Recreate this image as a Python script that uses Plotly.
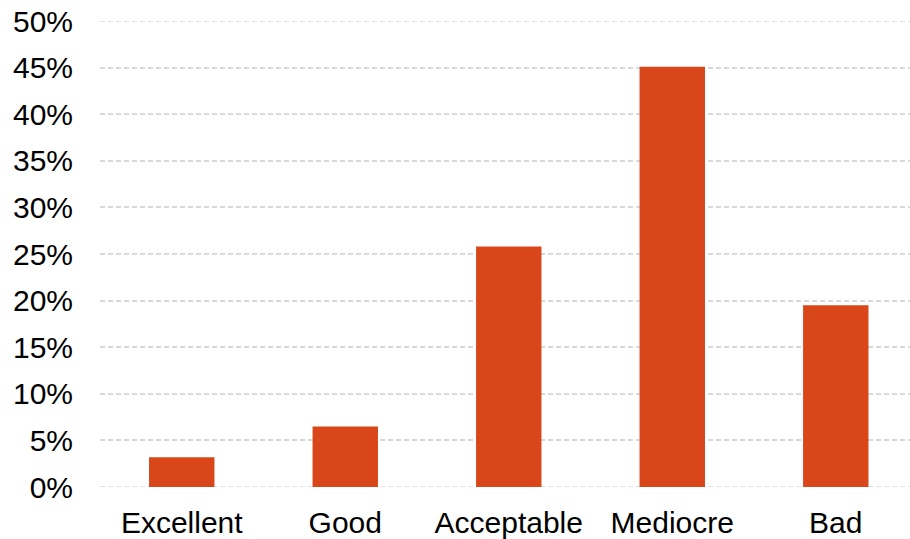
import plotly.graph_objects as go

categories = ["Excellent", "Good", "Acceptable", "Mediocre", "Bad"]
shares = [3.2, 6.5, 25.8, 45.1, 19.5]
tick_vals = [0, 5, 10, 15, 20, 25, 30, 35, 40, 45, 50]
tick_text = [f"{v}%" for v in tick_vals]

bar_color = "#D9461A"
grid_color = "#D9D9D9"
grid_dash = "5px,3px"
font_family = "Liberation Sans, Arial, sans-serif"

fig = go.Figure(
    go.Bar(
        x=categories,
        y=shares,
        marker=dict(color=bar_color, line=dict(width=0)),
        hoverinfo="x+y",
    )
)

fig.update_layout(
    width=910,
    height=539,
    margin=dict(l=100, r=0, t=21, b=52),
    paper_bgcolor="white",
    plot_bgcolor="white",
    bargap=0.6,
    showlegend=False,
    font=dict(family=font_family, size=30, color="#000000"),
)

fig.update_xaxes(
    range=[-0.5, 4.454],
    showgrid=False,
    showline=False,
    zeroline=False,
    ticks="",
    tickfont=dict(size=30),
    ticklabelstandoff=15,
)

y_range = [tick_vals[0], tick_vals[-1]]
fig.update_yaxes(
    range=y_range,
    tickvals=tick_vals,
    ticktext=tick_text,
    showgrid=True,
    gridcolor=grid_color,
    gridwidth=1.5,
    griddash=grid_dash,
    zeroline=False,
    showline=False,
    ticks="",
    tickfont=dict(size=30),
    ticklabelstandoff=26,
)

# grid lines at the two ends of the value range, drawn beneath the bars
for v in y_range:
    fig.add_shape(
        type="line",
        xref="paper", x0=0, x1=1,
        yref="y", y0=v, y1=v,
        line=dict(color=grid_color, width=1.5, dash=grid_dash),
        layer="below",
    )

fig.write_html("out.html")
